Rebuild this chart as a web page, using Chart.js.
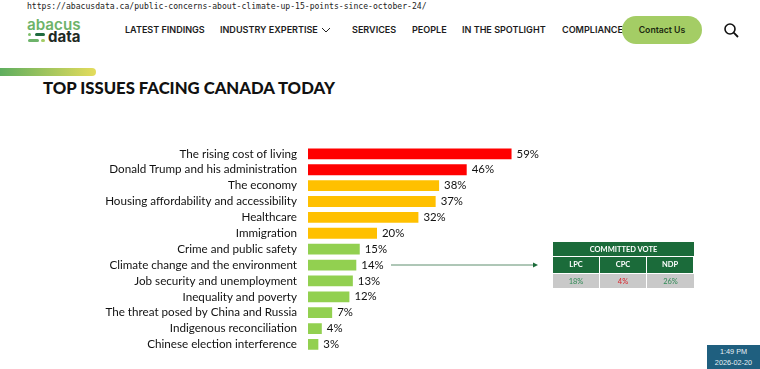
<!DOCTYPE html>
<html>
<head>
<meta charset="utf-8">
<title>Top issues facing Canada today</title>
<script src="https://cdn.jsdelivr.net/npm/chart.js@4"></script>
<style>
    html, body { margin: 0; padding: 0; background: #fff; }
    body { position: relative; width: 760px; height: 369px; overflow: hidden; font-family: Inter, sans-serif; }
    .abs { position: absolute; white-space: nowrap; }
    #url { left: 27px; top: 1px; font: 8.1px/10px "DejaVu Sans Mono", monospace; color: #222; }
    .nav { top: 24px; font: 600 9.05px/12px Inter, sans-serif; color: #1c1c1c; }
    #contact { left: 622px; top: 16px; width: 80px; height: 28px; border-radius: 14px; background: #a4cd65; text-align: center; font: 600 8.7px/28px Inter, sans-serif; color: #1c2a10; }
    #stripe { left: 0; top: 68px; width: 96px; height: 8px; border-radius: 0 4px 4px 0; background: linear-gradient(90deg, #5fae5f, #e4dc5c); }
    #title { left: 43px; top: 78px; font: 900 16.7px/20px Lato, sans-serif; color: #111; }
    #logo1 { left: 27px; top: 17px; font: 600 15.2px/15px Inter, sans-serif; color: #6db36a; }
    #logo2 { left: 48px; top: 29px; font: 700 15px/15px Inter, sans-serif; color: #1f2a24; }
    .pill { height: 3px; border-radius: 2px; }
    #chart { position: absolute; left: 0; top: 130px; }
    #vote { left: 553px; top: 242px; width: 141px; height: 46px; display: grid; grid-template-columns: repeat(3, 1fr); grid-template-rows: 15px 16px 15px; gap: 0; font: 7.5px/15px Lato, sans-serif; text-align: center; }
    #vote div { box-sizing: border-box; }
    #vote .head { grid-column: 1 / 4; background: #1b6b3a; color: #fff; font-weight: 700; border-bottom: 1px solid #fff; }
    #vote .party { background: #1b6b3a; color: #fff; font-weight: 700; border-right: 1px solid #fff; }
    #vote .val { background: #c9c9c9; border-right: 1px solid #fff; border-top: 1px solid #fff; }
    #vote .party:last-child, #vote .val:last-child { border-right: 0; }
    #clock { left: 707px; top: 345px; width: 53px; height: 24px; background: #1f5f7f; color: #e8f0f4; text-align: center; font: 7.3px/11px "Liberation Sans", sans-serif; padding-top: 1px; box-sizing: border-box; }
</style>
</head>
<body>
<div class="abs" id="url">https://abacusdata.ca/public-concerns-about-climate-up-15-points-since-october-24/</div>

<div class="abs" id="logo1">abacus</div>
<div class="abs" id="logo2">data</div>
<div class="abs pill" style="left:28px;top:33px;width:3px;background:#7fbf6a"></div>
<div class="abs pill" style="left:35px;top:33px;width:10px;background:#1f6b3f"></div>
<div class="abs pill" style="left:28px;top:39px;width:11px;background:#6db36a"></div>
<div class="abs pill" style="left:41px;top:39px;width:4px;background:#a4cd65"></div>

<div class="abs nav" style="left:125px">LATEST FINDINGS</div>
<div class="abs nav" style="left:220px">INDUSTRY EXPERTISE</div>
<svg class="abs" style="left:321px;top:27px" width="10" height="6"><path d="M1 1 L5 5 L9 1" fill="none" stroke="#222" stroke-width="1"/></svg>
<div class="abs nav" style="left:352px">SERVICES</div>
<div class="abs nav" style="left:412px">PEOPLE</div>
<div class="abs nav" style="left:462px">IN THE SPOTLIGHT</div>
<div class="abs nav" style="left:562px">COMPLIANCE</div>
<div class="abs" id="contact">Contact Us</div>
<svg class="abs" style="left:723px;top:22px" width="16" height="16"><circle cx="7" cy="7" r="5" fill="none" stroke="#111" stroke-width="1.6"/><path d="M10.7 10.7 L15 15" stroke="#111" stroke-width="1.8"/></svg>

<div class="abs" id="stripe"></div>
<div class="abs" id="title">TOP ISSUES FACING CANADA TODAY</div>

<canvas id="chart" width="760" height="239"></canvas>

<svg class="abs" style="left:390px;top:261px" width="150" height="8"><path d="M1 4 L144 4" stroke="#5f8f6f" stroke-width="1"/><path d="M148 4 L143 1.5 L143 6.5 Z" fill="#1b6b3a"/></svg>

<div class="abs" id="vote"></div>
<div class="abs" id="clock">1:49 PM<br>2026-02-20</div>

<script>
const issues = [
    'The rising cost of living',
    'Donald Trump and his administration',
    'The economy',
    'Housing affordability and accessibility',
    'Healthcare',
    'Immigration',
    'Crime and public safety',
    'Climate change and the environment',
    'Job security and unemployment',
    'Inequality and poverty',
    'The threat posed by China and Russia',
    'Indigenous reconciliation',
    'Chinese election interference'
];
const issueValues = [59, 46, 38, 37, 32, 20, 15, 14, 13, 12, 7, 4, 3];
const barColors = ['#ff0000', '#ff0000', '#ffc000', '#ffc000', '#ffc000', '#ffc000',
    '#92d050', '#92d050', '#92d050', '#92d050', '#92d050', '#92d050', '#92d050'];

const voteParties = ['LPC', 'CPC', 'NDP'];
const voteValues = [18, 4, 26];
const voteColors = ['#2f8a55', '#d8232a', '#2f8a55'];

// committed vote table
const vote = document.getElementById('vote');
vote.innerHTML = '<div class="head">COMMITTED VOTE</div>'
    + voteParties.map(p => `<div class="party">${p}</div>`).join('')
    + voteValues.map((v, i) => `<div class="val" style="color:${voteColors[i]}">${v}%</div>`).join('');

// percent labels at the end of each bar
const barLabels = {
    id: 'barLabels',
    afterDatasetsDraw(chart) {
        const ctx = chart.ctx;
        const meta = chart.getDatasetMeta(0);
        ctx.save();
        ctx.font = '11.4px Lato, sans-serif';
        ctx.fillStyle = '#111';
        ctx.textBaseline = 'middle';
        meta.data.forEach((bar, i) => {
            ctx.fillText(issueValues[i] + '%', bar.x + 5, bar.y);
        });
        ctx.restore();
    }
};

new Chart(document.getElementById('chart').getContext('2d'), {
    type: 'bar',
    data: {
        labels: issues,
        datasets: [{
            data: issueValues,
            backgroundColor: barColors,
            barPercentage: 0.68,
            categoryPercentage: 1
        }]
    },
    options: {
        indexAxis: 'y',
        responsive: false,
        animation: false,
        layout: { padding: { top: 15.9, bottom: 16.6, right: 107 } },
        plugins: { legend: { display: false }, tooltip: { enabled: false } },
        scales: {
            x: { display: false, min: 0, max: 100 },
            y: {
                grid: { display: false },
                border: { display: false },
                afterFit(scale) {
                    scale.width = 308;
                    scale.paddingTop = 0;
                    scale.paddingBottom = 0;
                },
                ticks: {
                    color: '#111',
                    padding: 3,
                    autoSkip: false,
                    font: { family: 'Lato, sans-serif', size: 11.65 }
                }
            }
        }
    },
    plugins: [barLabels]
});
</script>
</body>
</html>
